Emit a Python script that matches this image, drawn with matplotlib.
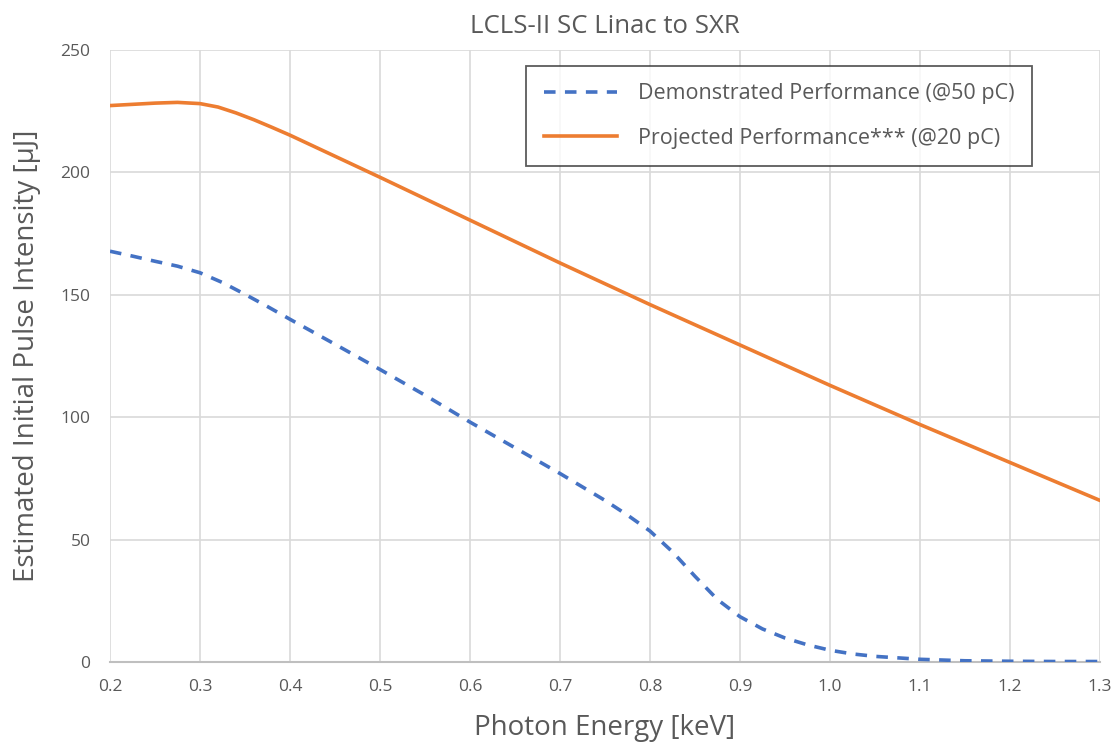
import matplotlib
matplotlib.use("Agg")
import matplotlib.pyplot as plt

energy_demo = [0.20, 0.225, 0.25, 0.275, 0.30, 0.325, 0.35, 0.375, 0.40, 0.45, 0.50, 0.55, 0.60,
               0.65, 0.70, 0.75, 0.775, 0.80, 0.825, 0.85, 0.875, 0.90, 0.925, 0.95, 0.975,
               1.00, 1.025, 1.05, 1.10, 1.15, 1.20, 1.25, 1.30]
demo_values = [167.8, 165.8, 163.7, 161.7, 159.0, 155.0, 150.2, 145.2, 140.0, 129.8, 119.5,
               109.0, 98.0, 87.5, 77.0, 66.0, 60.0, 53.5, 45.0, 35.0, 25.5, 18.5, 13.5, 9.8,
               7.0, 4.8, 3.3, 2.3, 1.1, 0.5, 0.3, 0.2, 0.2]

energy_proj = [0.20, 0.225, 0.25, 0.275, 0.30, 0.32, 0.34, 0.36, 0.38, 0.40, 0.50, 0.60,
               0.70, 0.80, 0.90, 1.00, 1.10, 1.20, 1.30]
proj_values = [227.3, 227.8, 228.3, 228.6, 228.1, 226.7, 224.3, 221.5, 218.4, 215.2, 198.0,
               180.5, 163.0, 146.0, 129.5, 113.0, 97.0, 81.5, 66.0]

x_ticks = [0.2, 0.3, 0.4, 0.5, 0.6, 0.7, 0.8, 0.9, 1.0, 1.1, 1.2, 1.3]
x_tick_labels = ["0.2", "0.3", "0.4", "0.5", "0.6", "0.7", "0.8", "0.9", "1.0", "1.1", "1.2", "1.3"]
y_ticks = [0, 50, 100, 150, 200, 250]

plt.rcParams['font.family'] = ['Open Sans', 'DejaVu Sans']
text_color = "#595959"

fig = plt.figure(figsize=(11.16, 7.44), dpi=100)
ax = fig.add_axes([110/1116, 1 - 662/744, 990/1116, 612/744])

ax.plot(energy_demo, demo_values, color="#4472C4", lw=2.6, linestyle=(0, (3.2, 2.6)),
        label="Demonstrated Performance (@50 pC)", zorder=3)
ax.plot(energy_proj, proj_values, color="#ED7D31", lw=2.6,
        label="Projected Performance*** (@20 pC)", zorder=3)

ax.set_xlim(0.2, 1.3)
ax.set_ylim(0, 250)
ax.set_xticks(x_ticks)
ax.set_xticklabels(x_tick_labels)
ax.set_yticks(y_ticks)
ax.grid(True, color="#D9D9D9", lw=1.2)
ax.set_axisbelow(True)
for s in ["top", "right", "left"]:
    ax.spines[s].set_visible(False)
ax.spines["bottom"].set_color("#BFBFBF")
ax.spines["bottom"].set_linewidth(1.5)
ax.tick_params(length=0, colors=text_color, labelsize=12.5, pad=12)
ax.tick_params(axis="y", pad=14)

ax.set_title("LCLS-II SC Linac to SXR", fontsize=18.5, color=text_color, pad=12)
ax.set_xlabel("Photon Energy [keV]", fontsize=20, color=text_color, labelpad=14)
ax.set_ylabel("Estimated Initial Pulse Intensity [μJ]", fontsize=20, color=text_color, labelpad=14)

leg = ax.legend(loc="upper right", bbox_to_anchor=(922/990, 1 - 16/612), fontsize=15.5,
                frameon=True, fancybox=False, edgecolor="#333333", handlelength=3.4,
                handletextpad=1.0, borderpad=0.8, labelspacing=1.1, borderaxespad=0)
leg.get_frame().set_linewidth(1.3)
for t in leg.get_texts():
    t.set_color(text_color)

fig.savefig("out.png", dpi=100)
